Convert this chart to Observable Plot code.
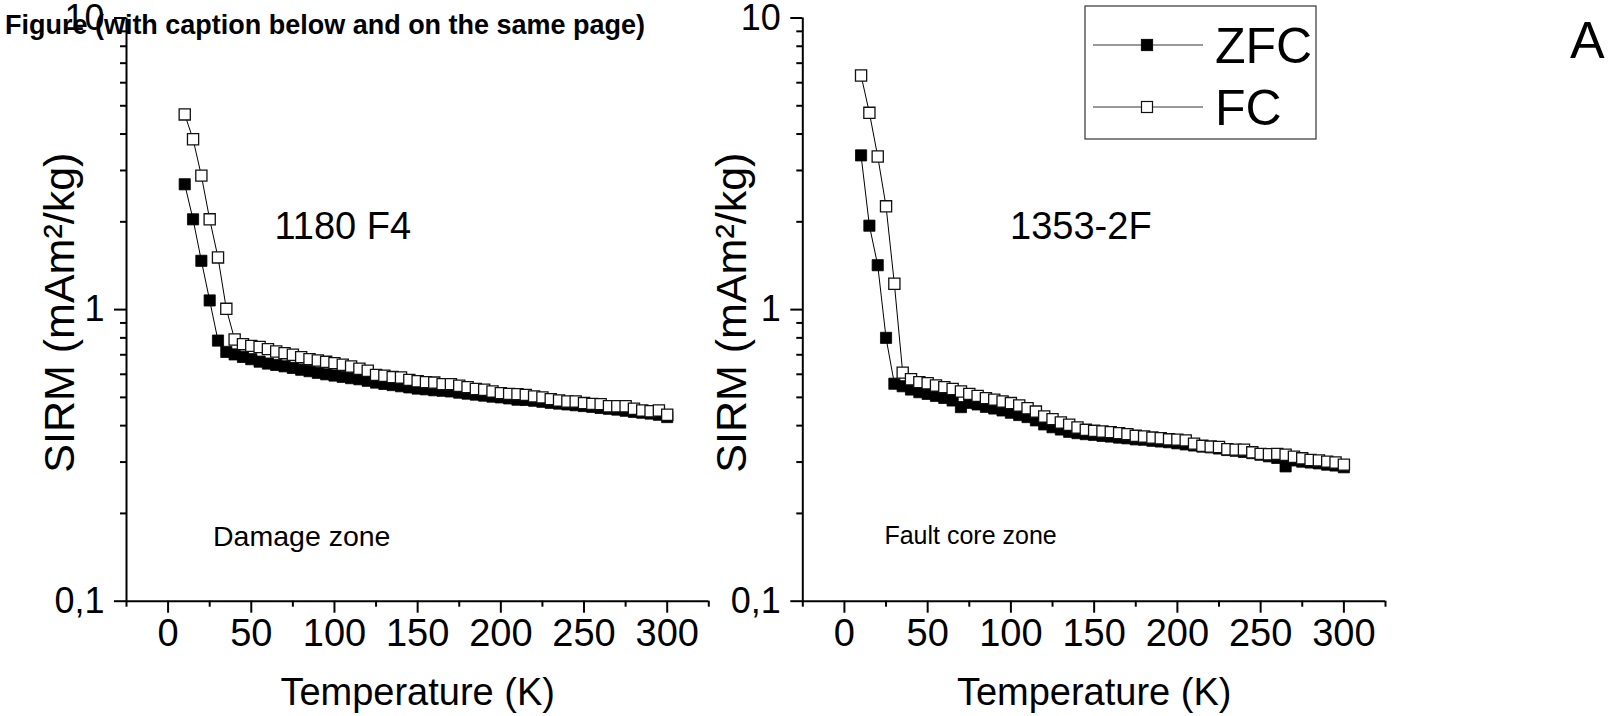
<!DOCTYPE html>
<html><head><meta charset="utf-8">
<script src="https://cdn.jsdelivr.net/npm/d3@7"></script>
<script src="https://cdn.jsdelivr.net/npm/@observablehq/plot@0.6"></script>
<style>
body{margin:0;background:#fff;}
#fig{position:relative;width:1610px;height:716px;overflow:hidden;background:#fff;font-family:"Liberation Sans",Arial,sans-serif;color:#000;}
.panel{position:absolute;top:0;}
#letter{position:absolute;left:1570px;top:10px;font-size:52px;line-height:60px;}
</style></head><body><div id="fig"><div id="letter">A</div></div>
<script>
const temps = [10,15,20,25,30,35,40,45,50,55,60,65,70,75,80,85,90,95,100,105,110,115,120,125,130,135,140,145,150,155,160,165,170,175,180,185,190,195,200,205,210,215,220,225,230,235,240,245,250,255,260,265,270,275,280,285,290,295,300];

const leftZFC = [2.69,2.04,1.47,1.075,0.783,0.716,0.702,0.688,0.676,0.663,0.653,0.646,0.639,0.631,0.622,0.615,0.607,0.600,0.594,0.588,0.582,0.577,0.570,0.562,0.556,0.551,0.546,0.541,0.536,0.533,0.529,0.527,0.524,0.519,0.515,0.511,0.507,0.503,0.500,0.496,0.491,0.490,0.487,0.483,0.479,0.476,0.473,0.470,0.467,0.464,0.460,0.457,0.454,0.450,0.446,0.443,0.440,0.436,0.428];
const leftFC = [4.67,3.84,2.88,2.04,1.51,1.006,0.79,0.761,0.751,0.744,0.732,0.718,0.709,0.700,0.687,0.676,0.669,0.662,0.655,0.647,0.638,0.627,0.617,0.597,0.593,0.587,0.585,0.574,0.568,0.564,0.562,0.555,0.555,0.548,0.542,0.534,0.531,0.524,0.517,0.514,0.513,0.510,0.504,0.500,0.493,0.488,0.484,0.484,0.478,0.475,0.474,0.466,0.466,0.466,0.457,0.451,0.448,0.451,0.436];
const rightZFC = [3.38,1.94,1.42,0.80,0.557,0.546,0.532,0.521,0.514,0.506,0.498,0.488,0.463,0.479,0.473,0.464,0.458,0.451,0.443,0.435,0.428,0.417,0.404,0.395,0.388,0.381,0.377,0.374,0.372,0.369,0.367,0.364,0.362,0.359,0.358,0.355,0.353,0.351,0.348,0.345,0.342,0.339,0.337,0.334,0.330,0.328,0.325,0.322,0.318,0.314,0.310,0.290,0.304,0.301,0.299,0.297,0.294,0.292,0.288];
const rightFC = [6.35,4.73,3.35,2.26,1.226,0.608,0.577,0.564,0.559,0.549,0.542,0.534,0.524,0.514,0.506,0.497,0.491,0.484,0.478,0.469,0.459,0.447,0.430,0.421,0.410,0.403,0.394,0.387,0.384,0.382,0.380,0.377,0.374,0.369,0.367,0.364,0.362,0.359,0.358,0.356,0.347,0.341,0.339,0.338,0.332,0.331,0.331,0.324,0.320,0.319,0.320,0.318,0.313,0.309,0.305,0.304,0.301,0.299,0.294];

const xMajorTicks = [0,50,100,150,200,250,300];
const xMinorTicks = [-25,25,75,125,175,225,275,325];
const yMajorTicks = [0.1,1,10];
const yMinorTicks = [0.2,0.3,0.4,0.5,0.6,0.7,0.8,0.9,2,3,4,5,6,7,8,9];
const seriesNames = ["ZFC","FC"];
const sampleNames = ["1180 F4","1353-2F"];
const zoneNames = ["Damage zone","Fault core zone"];
const xTitle = "Temperature (K)";
const yTitle = "SIRM (mAm²/kg)";
const figTitle = "Figure (with caption below and on the same page)";

const FONT = '"Liberation Sans", Arial, sans-serif';
const fig = document.getElementById("fig");

function panel(zfc, fc, name, zone, o) {
  const zData = temps.map((t, i) => ({t, v: zfc[i]}));
  const fData = temps.map((t, i) => ({t, v: fc[i]}));
  const p = Plot.plot({
    width: o.width, height: 716,
    marginLeft: o.ml, marginRight: o.mr, marginTop: 17.5, marginBottom: 115.3,
    style: {fontFamily: FONT, fontSize: "38px", color: "black", background: "transparent", overflow: "visible"},
    x: {domain: [-25, 325]},
    y: {type: "log", domain: [0.1, 10]},
    marks: [
      Plot.axisX({ticks: xMajorTicks, tickSize: 12, tickPadding: 6, strokeWidth: 2, tickFormat: d => String(d), label: null, fontSize: 38}),
      Plot.axisX({ticks: xMinorTicks, tickSize: 6, strokeWidth: 2, tickFormat: () => "", label: null}),
      Plot.axisY({ticks: yMajorTicks, tickSize: 12, tickPadding: 10, strokeWidth: 2, tickFormat: d => String(d).replace(".", ","), label: null, fontSize: 36}),
      Plot.axisY({ticks: yMinorTicks, tickSize: 6, strokeWidth: 2, tickFormat: () => "", label: null}),
      Plot.ruleX([-25], {strokeWidth: 2}),
      Plot.ruleY([0.1], {strokeWidth: 2}),
      Plot.line(zData, {x: "t", y: "v", stroke: "black", strokeWidth: 1}),
      Plot.dot(zData, {x: "t", y: "v", symbol: "square", r: 6.3, fill: "black", stroke: "black", strokeWidth: 0.8}),
      Plot.line(fData, {x: "t", y: "v", stroke: "black", strokeWidth: 1}),
      Plot.dot(fData, {x: "t", y: "v", symbol: "square", r: 6.3, fill: "white", stroke: "#111", strokeWidth: 1.3}),
      Plot.text([name], {x: o.nameX, y: 1.93, text: d => d, fontSize: 38}),
      Plot.text([zone], {x: o.zoneX, y: 0.1667, text: d => d, textAnchor: "start", fontSize: o.zoneSize}),
      Plot.text([yTitle], {frameAnchor: "left", text: d => d, rotate: -90, textAnchor: "middle", dx: o.ydx, dy: 3, fontSize: 43}),
      Plot.text([xTitle], {frameAnchor: "bottom", text: d => d, dy: 104, fontSize: 38})
    ]
  });
  p.classList.add("panel");
  p.style.left = o.left + "px";
  fig.appendChild(p);
}

panel(leftZFC, leftFC, sampleNames[0], zoneNames[0], {left: 0, width: 720, ml: 126, mr: 11.7, nameX: 105, zoneX: 27, zoneSize: 28.5, ydx: -66});
panel(rightZFC, rightFC, sampleNames[1], zoneNames[1], {left: 720, width: 700, ml: 82.3, mr: 35, nameX: 142, zoneX: 24, zoneSize: 25, ydx: -71});

// overlay: figure title and legend
const ov = d3.select(fig).append("svg").attr("width", 1610).attr("height", 716)
  .style("position", "absolute").style("left", 0).style("top", 0).style("pointer-events", "none");
ov.append("text").attr("x", 5).attr("y", 34).attr("font-family", FONT).attr("font-weight", "bold")
  .attr("font-size", 28).attr("textLength", 640).attr("lengthAdjust", "spacingAndGlyphs").attr("fill", "black").text(figTitle);
ov.append("rect").attr("x", 1085).attr("y", 6).attr("width", 231).attr("height", 133)
  .attr("fill", "white").attr("stroke", "#333").attr("stroke-width", 1.2);
const rowsY = [45, 107];
seriesNames.forEach((s, i) => {
  const y = rowsY[i];
  ov.append("line").attr("x1", 1093).attr("x2", 1203).attr("y1", y).attr("y2", y).attr("stroke", "#333").attr("stroke-width", 1);
  ov.append("rect").attr("x", 1141.5).attr("y", y - 5.5).attr("width", 11).attr("height", 11)
    .attr("fill", i === 0 ? "black" : "white").attr("stroke", "#111").attr("stroke-width", 1.2);
  ov.append("text").attr("x", 1215).attr("y", y).attr("dy", "0.36em").attr("font-size", 50)
    .attr("font-family", FONT).attr("fill", "black").text(s);
});
</script></body></html>
